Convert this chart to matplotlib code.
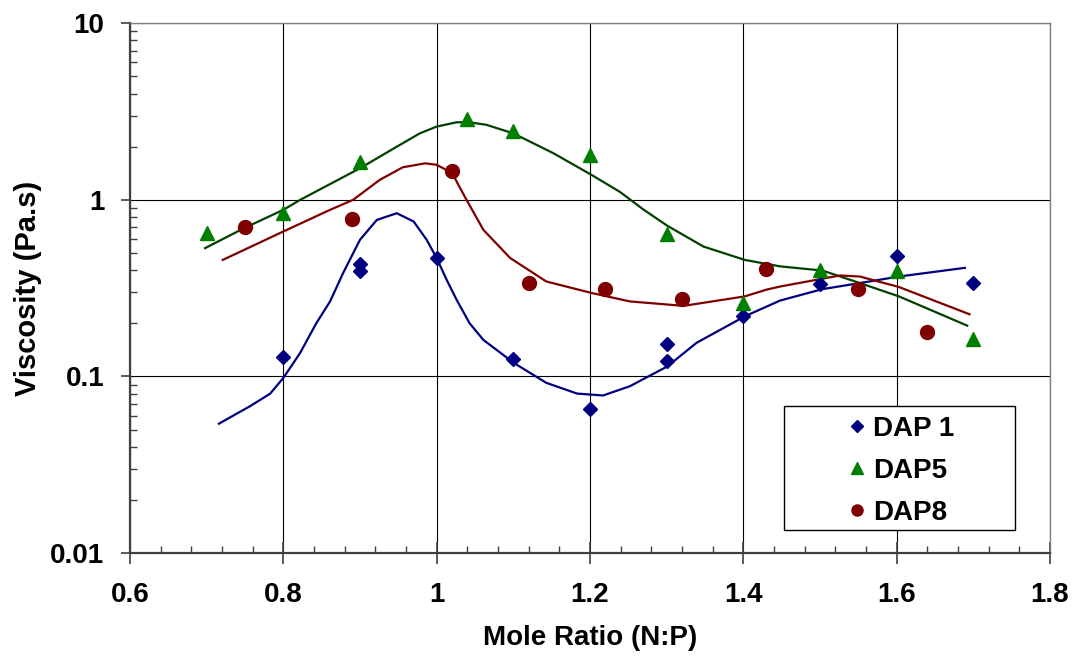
import numpy as np
import matplotlib
matplotlib.use("Agg")
import matplotlib.pyplot as plt
from matplotlib.patches import Rectangle
from matplotlib.ticker import LogLocator, NullFormatter, MultipleLocator

plt.rcParams['font.family'] = ['Liberation Sans', 'DejaVu Sans']
plt.rcParams['font.weight'] = 'bold'

# measured points
dap1_x = [0.8, 0.9, 0.9, 1.0, 1.1, 1.2, 1.3, 1.3, 1.4, 1.5, 1.6, 1.7]
dap1_y = [0.129, 0.434, 0.398, 0.47, 0.125, 0.065, 0.152, 0.123, 0.219, 0.332, 0.482, 0.34]

dap5_x = [0.7, 0.8, 0.9, 1.04, 1.1, 1.2, 1.3, 1.4, 1.5, 1.6, 1.7]
dap5_y = [0.653, 0.848, 1.63, 2.87, 2.44, 1.80, 0.64, 0.262, 0.40, 0.397, 0.163]

dap8_x = [0.75, 0.89, 1.02, 1.12, 1.22, 1.32, 1.43, 1.55, 1.64]
dap8_y = [0.706, 0.78, 1.45, 0.336, 0.312, 0.276, 0.407, 0.312, 0.178]

# trend curves
fit1_x = [0.716, 0.757, 0.783, 0.80, 0.822, 0.843, 0.861, 0.878, 0.90, 0.922, 0.948,
          0.97, 0.987, 1.0, 1.013, 1.026, 1.043, 1.061, 1.101, 1.143, 1.183, 1.217,
          1.252, 1.301, 1.339, 1.402, 1.448, 1.503, 1.552, 1.603, 1.689]
fit1_y = [0.054, 0.068, 0.080, 0.098, 0.136, 0.20, 0.266, 0.385, 0.594, 0.77, 0.84,
          0.754, 0.594, 0.468, 0.353, 0.272, 0.20, 0.161, 0.119, 0.092, 0.080, 0.078,
          0.088, 0.114, 0.155, 0.219, 0.269, 0.312, 0.338, 0.368, 0.412]

fit5_x = [0.698, 0.749, 0.80, 0.822, 0.90, 0.948, 0.978, 1.0, 1.026, 1.043, 1.065,
          1.10, 1.152, 1.202, 1.239, 1.270, 1.301, 1.348, 1.402, 1.448, 1.503, 1.552,
          1.603, 1.692]
fit5_y = [0.533, 0.692, 0.878, 1.0, 1.51, 2.0, 2.38, 2.60, 2.75, 2.75, 2.66,
          2.38, 1.84, 1.385, 1.11, 0.88, 0.713, 0.544, 0.457, 0.42, 0.398, 0.338,
          0.284, 0.194]

fit8_x = [0.721, 0.80, 0.861, 0.891, 0.926, 0.956, 0.985, 1.0, 1.02, 1.039, 1.061,
          1.096, 1.143, 1.202, 1.252, 1.322, 1.402, 1.43, 1.448, 1.526, 1.552, 1.603,
          1.695]
fit8_y = [0.457, 0.662, 0.878, 1.0, 1.30, 1.53, 1.61, 1.58, 1.42, 1.0, 0.676,
          0.468, 0.345, 0.297, 0.266, 0.251, 0.284, 0.31, 0.323, 0.373, 0.368, 0.321,
          0.225]

fig = plt.figure(figsize=(10.76, 6.56), dpi=100)
ax = fig.add_axes([0.1208, 0.157, 0.855, 0.8075])

ax.set_yscale('log')
ax.set_xlim(0.6, 1.8)
ax.set_ylim(0.01, 10)

ax.plot(fit1_x, fit1_y, color='#000080', lw=1.6, zorder=3, solid_joinstyle='round')
ax.plot(fit5_x, fit5_y, color='#004000', lw=1.6, zorder=3, solid_joinstyle='round')
ax.plot(fit8_x, fit8_y, color='#800000', lw=1.6, zorder=3, solid_joinstyle='round')

ax.plot(dap1_x, dap1_y, 'D', color='#000080', ms=7.5, ls='none', label='DAP 1', zorder=4)
ax.plot(dap5_x, dap5_y, '^', color='#008000', ms=10, ls='none', label='DAP5', zorder=4)
ax.plot(dap8_x, dap8_y, 'o', color='#800000', ms=10, ls='none', label='DAP8', zorder=4)

ax.xaxis.set_minor_locator(MultipleLocator(0.04))
ax.yaxis.set_minor_locator(LogLocator(base=10, subs=np.arange(2, 10), numticks=20))
ax.yaxis.set_minor_formatter(NullFormatter())
ax.set_xticks([0.6, 0.8, 1.0, 1.2, 1.4, 1.6, 1.8])
ax.set_xticklabels(['0.6', '0.8', '1', '1.2', '1.4', '1.6', '1.8'])
ax.set_yticks([0.01, 0.1, 1, 10])
ax.set_yticklabels(['0.01', '0.1', '1', '10'])

ax.grid(True, which='major', color='black', lw=0.8)
ax.set_axisbelow(True)

ax.tick_params(axis='x', which='major', direction='inout', length=16, width=1.2,
               color='#404040', labelsize=20, pad=13)
ax.tick_params(axis='x', which='minor', direction='in', length=5, width=1, color='#404040')
ax.tick_params(axis='y', which='major', direction='out', length=6.5, width=1.2,
               color='#404040', labelsize=20, pad=12)
ax.tick_params(axis='y', which='minor', direction='in', length=5, width=1, color='#404040')

for s in ['left', 'bottom']:
    ax.spines[s].set_color('#404040')
    ax.spines[s].set_linewidth(1.6)
for s in ['top', 'right']:
    ax.spines[s].set_color('#808080')
    ax.spines[s].set_linewidth(1)

ax.set_xlabel('Mole Ratio (N:P)', fontsize=20, fontweight='bold', labelpad=12)
ax.set_ylabel('Viscosity (Pa.s)', fontsize=21, fontweight='bold', labelpad=6)

# legend box drawn separately so the entries sit centred inside it
box = Rectangle((0.711, 0.0434), 0.251, 0.2345, transform=ax.transAxes,
                facecolor='white', edgecolor='black', lw=1, zorder=5)
ax.add_patch(box)
leg = ax.legend(loc='center', bbox_to_anchor=(0.837, 0.155), frameon=False,
                fontsize=20, markerscale=0.8, handlelength=0.8, handletextpad=0.2,
                borderpad=0, labelspacing=0.58, borderaxespad=0)
leg.set_zorder(6)
for t in leg.get_texts():
    t.set_fontweight('bold')

fig.savefig('out.png', dpi=100)
